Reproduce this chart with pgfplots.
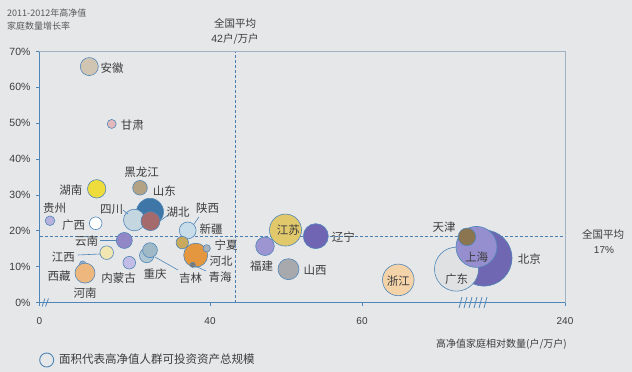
\documentclass[border=0pt]{standalone}
\usepackage{fontspec}
\setmainfont{Noto Sans CJK SC}
\newfontfamily\lat{Liberation Sans}
\usepackage{pgfplots}
\pgfplotsset{compat=1.18}
\definecolor{bg}{HTML}{E6E7E9}
\definecolor{axisblue}{HTML}{4F86B8}
\definecolor{framegray}{HTML}{9FB2C3}
\definecolor{dashblue}{HTML}{4A7DB0}
\definecolor{outl}{HTML}{4F86B8}
\definecolor{txt}{HTML}{3C3C3C}
\definecolor{anhui}{HTML}{D0C5B3}
\definecolor{gansu}{HTML}{E5B9BC}
\definecolor{hunan}{HTML}{EEDC3C}
\definecolor{heilongjiang}{HTML}{B3A284}
\definecolor{shandong}{HTML}{3F76A8}
\definecolor{sichuan}{HTML}{C4D6E0}
\definecolor{hubei}{HTML}{A56A6B}
\definecolor{guizhou}{HTML}{B7B1DD}
\definecolor{guangxi}{HTML}{FFFFFF}
\definecolor{shaanxi}{HTML}{C7DDE9}
\definecolor{yunnan}{HTML}{9187C6}
\definecolor{xinjiang}{HTML}{C9A95B}
\definecolor{ningxia}{HTML}{A9B2BB}
\definecolor{hebei}{HTML}{E4973E}
\definecolor{qinghai}{HTML}{877A66}
\definecolor{jiangxi}{HTML}{F2E6B3}
\definecolor{jilin}{HTML}{9FB9C6}
\definecolor{chongqing}{HTML}{AFC7D3}
\definecolor{neimenggu}{HTML}{C3BCE6}
\definecolor{xizang}{HTML}{9FB4D0}
\definecolor{henan}{HTML}{EEB77E}
\definecolor{jiangsu}{HTML}{E1C96B}
\definecolor{liaoning}{HTML}{6F65B3}
\definecolor{fujian}{HTML}{9D95D1}
\definecolor{shanxi}{HTML}{A8A9AD}
\definecolor{zhejiang}{HTML}{F5D3A9}
\definecolor{tianjin}{HTML}{8A7550}
\definecolor{shanghai}{HTML}{968FCF}
\definecolor{beijing}{HTML}{6F67B1}
\definecolor{guangdong}{HTML}{E0E1E3}
\pgfplotsset{bub/.style={only marks, mark=*, mark options={fill=#1, draw=outl, line width=0.6pt}}}
\begin{document}
\begin{tikzpicture}
\useasboundingbox (0pt,0pt) rectangle (632pt,-372pt);
\fill[bg] (0pt,0pt) rectangle (632pt,-372pt);
\begin{axis}[
  at={(39.5pt,-302.5pt)}, anchor=south west,
  scale only axis, width=525.5pt, height=251pt,
  xmin=39.5, xmax=565, ymin=0, ymax=70,
  clip=false,
  axis line style={draw=none},
  xtick pos=bottom, ytick pos=left,
  xtick={39.5,210,362,565}, xticklabels={0,40,60,240},
  ytick={0,10,...,70},
  yticklabel={\pgfmathprintnumber{\tick}\%},
  /pgf/number format/assume math mode=true,
  tick align=outside, major tick length=3.5pt,
  tick style={draw=axisblue, line width=0.6pt},
  xticklabel style={font=\lat\fontsize{10}{12}\selectfont, text=txt, yshift=-8pt},
  yticklabel style={font=\lat\fontsize{10.5}{12}\selectfont, text=txt, xshift=-2pt},
]
% reference lines
\addplot[dashblue, densely dashed, line width=0.7pt] coordinates {(235,0) (235,70)};
\addplot[dashblue, densely dashed, line width=0.7pt] coordinates {(39.5,18.4) (565,18.4)};
% bubbles
\addplot[bub=anhui, mark size=9] coordinates {(89.3,65.8)};
\addplot[bub=gansu, mark size=4.5] coordinates {(111.7,49.8)};
\addplot[bub=hunan, mark size=9.2] coordinates {(96.7,31.7)};
\addplot[bub=heilongjiang, mark size=7.3] coordinates {(140,32.0)};
\addplot[bub=shandong, mark size=13.5] coordinates {(150,25.3)};
\addplot[bub=sichuan, mark size=10.8] coordinates {(134.3,23.0)};
\addplot[bub=hubei, mark size=9.5] coordinates {(150.5,22.7)};
\addplot[bub=guizhou, mark size=4.8] coordinates {(50,22.8)};
\addplot[bub=guangxi, mark size=6.3] coordinates {(95.7,22.1)};
\addplot[bub=shaanxi, mark size=8.4] coordinates {(187.7,20.1)};
\addplot[bub=yunnan, mark size=8] coordinates {(124.3,17.3)};
\addplot[bub=xinjiang, mark size=6.2] coordinates {(182.3,16.7)};
\addplot[bub=hebei, mark size=12] coordinates {(195.7,13.2)};
\addplot[bub=ningxia, mark size=3.7] coordinates {(206.7,15.1)};
\addplot[bub=qinghai, mark size=2.6] coordinates {(192.7,10.5)};
\addplot[bub=jiangxi, mark size=6.8] coordinates {(106.7,13.9)};
\addplot[bub=chongqing, mark size=7.2] coordinates {(146.7,13.1)};
\addplot[bub=jilin, mark size=7.4] coordinates {(150,14.6)};
\addplot[bub=neimenggu, mark size=6.3] coordinates {(129.3,11.1)};
\addplot[bub=xizang, mark size=3.2] coordinates {(82.7,10.7)};
\addplot[bub=henan, mark size=10] coordinates {(85,8.2)};
\addplot[bub=jiangsu, mark size=16] coordinates {(285.5,20.2)};
\addplot[bub=liaoning, mark size=12.5] coordinates {(315.8,18.5)};
\addplot[bub=fujian, mark size=9.3] coordinates {(265,15.7)};
\addplot[bub=shanxi, mark size=10.5] coordinates {(288.5,9.3)};
\addplot[bub=zhejiang, mark size=15.8] coordinates {(398.3,6.3)};
\addplot[bub=beijing, mark size=28] coordinates {(484,12.4)};
\addplot[bub=guangdong, mark size=22] coordinates {(456.5,9.3)};
\addplot[bub=shanghai, mark size=20.5] coordinates {(476.5,15.5)};
\addplot[bub=tianjin, mark size=8.8] coordinates {(467,18.3)};
\end{axis}
\begin{scope}[x=1pt, y=-1pt]
% frame
\draw[framegray, line width=0.8pt] (39.5,51.5) rectangle (565,302.5);
\draw[axisblue, line width=1.6pt] (39.5,51.5) -- (39.5,302.5) -- (565.4,302.5);
% axis breaks
\foreach \xx in {42,45.5} \draw[axisblue, line width=0.8pt] (\xx,306.5) -- (\xx+3,298.5);
\foreach \xx in {459,464,469,474,479,484} \draw[axisblue, line width=0.8pt] (\xx,308) -- (\xx+3,297);
% leader lines
\begin{scope}[axisblue, line width=0.6pt]
\draw (123,210) -- (128,214);
\draw (168,215) -- (160,221);
\draw (199,217) -- (194,224);
\draw (100,240.5) -- (116.5,240.5);
\draw (78,255) -- (100,254);
\draw (155,257) -- (178,270);
\draw (193,265) -- (206,271);
\end{scope}
% texts
\begin{scope}[every node/.style={text=txt, font=\fontsize{11.5}{13}\selectfont, inner sep=0pt}]
\node at (112,68) {安徽};
\node at (132.3,125) {甘肃};
\node at (70.8,190.5) {湖南};
\node at (141.7,172) {黑龙江};
\node at (164.3,191) {山东};
\node at (111.7,209) {四川};
\node at (178,212) {湖北};
\node at (54.5,208.5) {贵州};
\node at (73.5,225.5) {广西};
\node at (207.5,208.5) {陕西};
\node at (211,229) {新疆};
\node at (86.5,241) {云南};
\node at (226,245) {宁夏};
\node at (63.3,256.7) {江西};
\node at (221,261) {河北};
\node at (155,274.5) {重庆};
\node at (190.5,278.5) {吉林};
\node at (220,277) {青海};
\node at (118.5,278.5) {内蒙古};
\node at (59,276) {西藏};
\node at (85,293.5) {河南};
\node at (288.3,230) {江苏};
\node at (343.3,237.5) {辽宁};
\node at (261.7,266) {福建};
\node at (315,270) {山西};
\node at (398.3,281) {浙江};
\node at (444,227) {天津};
\node at (476.7,257.5) {上海};
\node at (456.7,279.5) {广东};
\node at (529.3,259.5) {北京};
\end{scope}
\begin{scope}[every node/.style={text=txt, inner sep=0pt}]
\node[anchor=west, font=\fontsize{9}{11}\selectfont, text=black!65] at (7,13.5) {2011-2012年高净值};
\node[anchor=west, font=\fontsize{9}{11}\selectfont, text=black!65] at (7,26.5) {家庭数量增长率};
\node[font=\fontsize{10.5}{12}\selectfont] at (235,23) {全国平均};
\node[font=\fontsize{10.5}{12}\selectfont] at (235,39) {{\lat 42}户/万户};
\node[font=\fontsize{10.5}{12}\selectfont] at (603,234) {全国平均};
\node[font=\lat\fontsize{10}{12}\selectfont] at (604,250) {17\%};
\node[anchor=east, font=\fontsize{10}{12}\selectfont] at (567,344) {高净值家庭相对数量(户/万户)};
\draw[axisblue, line width=0.9pt] (46.7,360) circle (7);
\node[anchor=west, font=\fontsize{11.5}{13}\selectfont] at (59,359.5) {面积代表高净值人群可投资资产总规模};
\end{scope}
\end{scope}
\end{tikzpicture}
\end{document}
